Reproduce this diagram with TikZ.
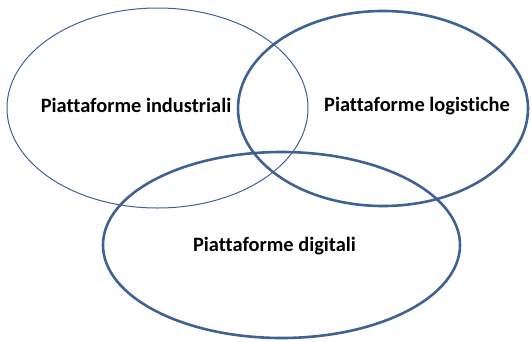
\documentclass[tikz,border=0pt]{standalone}
\usepackage{fontspec}
\setmainfont{Carlito}[Ligatures=NoCommon]
\begin{document}
\begin{tikzpicture}[x=1bp,y=-1bp,
  ring/.style={draw=ringblue},
  thinring/.style={ring,line width=1bp},
  thickring/.style={ring,line width=2.6bp},
  label/.style={font=\fontsize{20.4bp}{24bp}\selectfont\bfseries,text=black,inner sep=0pt}]
\definecolor{ringblue}{RGB}{64,98,146}
\useasboundingbox (0,0) rectangle (531,341);
% three overlapping areas
\draw[thinring]  (157.5,108) ellipse [x radius=150.5, y radius=100];
\draw[thickring] (383,108.5) ellipse [x radius=145, y radius=97.5];
\draw[thickring] (281.5,245) ellipse [x radius=178.5, y radius=93];
% area captions
\node[label] (ind) at (136,105) {Piattaforme industriali};
\node[label] (log) at (417,106) {Piattaforme logistiche};
\node[label] (dig) at (274.5,246) {Piattaforme digitali};
\end{tikzpicture}
\end{document}
